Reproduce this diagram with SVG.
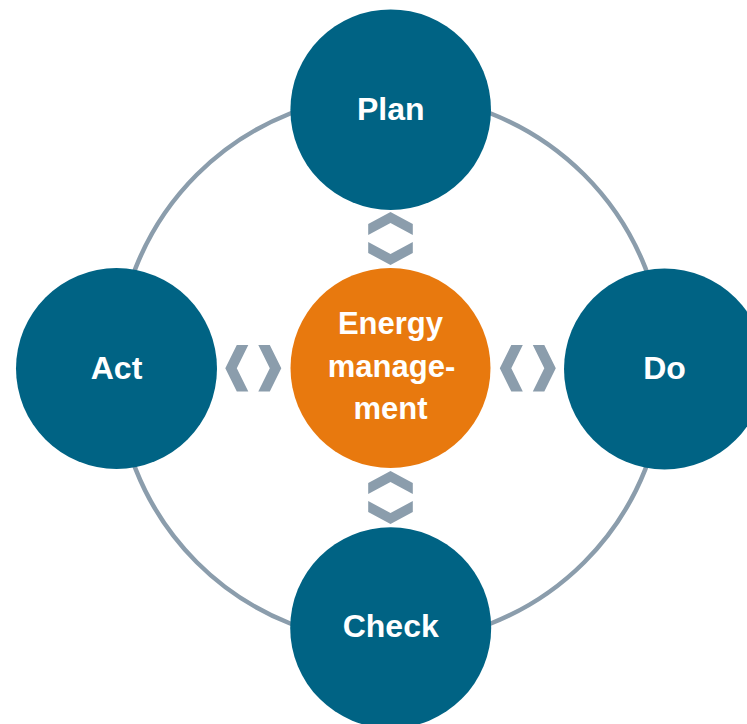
<svg xmlns="http://www.w3.org/2000/svg" width="747" height="724" viewBox="0 0 747 724">
<style>
.node{fill:#006384}
.center{fill:#e8790e}
.lbl{fill:#ffffff;font-family:"Liberation Sans",Arial,sans-serif;font-weight:bold;font-size:32px;text-anchor:middle}
.clbl{font-size:31px}
.ring{fill:none;stroke:#8b9dac;stroke-width:4.5}
.chev{fill:#8b9dac}
</style>
<defs>
<path id="hpair" d="M -16.5,-23.3 L -5,-23.3 L -16.5,0 L -5,23.3 L -16.5,23.3 L -28,0 Z M 16.5,-23.3 L 5,-23.3 L 16.5,0 L 5,23.3 L 16.5,23.3 L 28,0 Z"/>
<path id="vpair" d="M -22.3,-14.5 L 0,-26.5 L 22.3,-14.5 L 22.3,-3.5 L 0,-15.5 L -22.3,-3.5 Z M -22.3,14.5 L 0,26.5 L 22.3,14.5 L 22.3,3.5 L 0,15.5 L -22.3,3.5 Z"/>
</defs>
<rect width="747" height="724" fill="#ffffff"/>
<g id="connectors">
<circle class="ring" cx="390.5" cy="368.5" r="274"/>
<use href="#vpair" class="chev" x="390.5" y="238.5"/>
<use href="#vpair" class="chev" x="390.5" y="497.5"/>
<use href="#hpair" class="chev" x="253.3" y="368.3"/>
<use href="#hpair" class="chev" x="527.8" y="368.3"/>
</g>
<g id="plan">
<circle class="node" cx="390.7" cy="109.7" r="100.3"/>
<text class="lbl" x="390.7" y="120">Plan</text>
</g>
<g id="act">
<circle class="node" cx="116.5" cy="368.5" r="100.5"/>
<text class="lbl" x="116.5" y="379.3">Act</text>
</g>
<g id="do">
<circle class="node" cx="664.5" cy="369" r="100.5"/>
<text class="lbl" x="664.5" y="379.3">Do</text>
</g>
<g id="check">
<circle class="node" cx="390.7" cy="627.8" r="100.5"/>
<text class="lbl" x="390.7" y="637.3">Check</text>
</g>
<g id="energy-management">
<circle class="center" cx="390.5" cy="368" r="100"/>
<text class="lbl clbl" x="390.5" y="334.3">Energy</text>
<text class="lbl clbl" x="391.5" y="376.5">manage-</text>
<text class="lbl clbl" x="390.5" y="419.3">ment</text>
</g>
</svg>
